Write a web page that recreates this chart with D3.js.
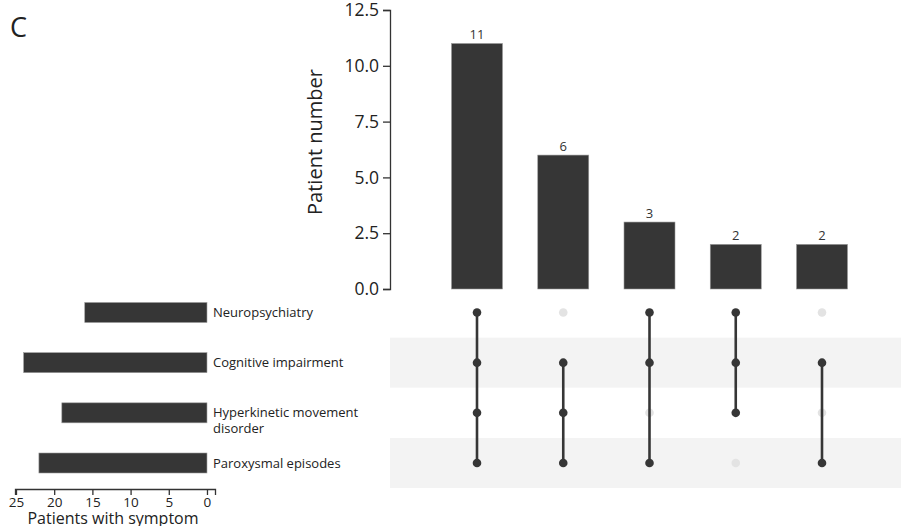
<!DOCTYPE html>
<html>
<head>
<meta charset="utf-8">
<script src="https://cdn.jsdelivr.net/npm/d3@7"></script>
<style>
  body { margin: 0; background: #fff; }
  svg { display: block; font-family: "Open Sans", sans-serif; }
</style>
</head>
<body>
<svg id="chart" width="901" height="526"></svg>
<script>
// Symptom sets (rows of the matrix) and patient totals per symptom
const symptoms = ["Neuropsychiatry", "Cognitive impairment", "Hyperkinetic movement disorder", "Paroxysmal episodes"];
const symptomLabels = [["Neuropsychiatry"], ["Cognitive impairment"], ["Hyperkinetic movement", "disorder"], ["Paroxysmal episodes"]];
const symptomTotals = [16, 24, 19, 22];

// Intersections: patient counts and membership per symptom (1 = present)
const intersectionCounts = [11, 6, 3, 2, 2];
const intersectionSets = [
  [1, 1, 1, 1],
  [0, 1, 1, 1],
  [1, 1, 0, 1],
  [1, 1, 1, 0],
  [0, 1, 0, 1]
];

const countTicks = [0, 2.5, 5, 7.5, 10, 12.5];
const totalTicks = [0, 5, 10, 15, 20, 25];

const dark = "#363636";
const light = "#e3e3e3";
const svg = d3.select("#chart");

// Scales
const xCol = d3.scalePoint().domain(d3.range(intersectionCounts.length)).range([477, 822]);
const barW = 51;
const yCount = d3.scaleLinear().domain([0, 12.5]).range([289, 10]);
const yRow = d3.scalePoint().domain(symptoms).range([312.5, 463]);
const rowH = 50;
const xTotal = d3.scaleLinear().domain([-1.05, 25.13]).range([215, 15]);

// Panel label
svg.append("text").attr("x", 10).attr("y", 37).attr("font-size", 27).attr("fill", "#222").text("C");

// Intersection bar chart
const yAxis = svg.append("g").attr("transform", "translate(390,0)")
  .call(d3.axisLeft(yCount).tickValues(countTicks).tickFormat(d3.format(".1f")).tickSize(7).tickPadding(4));
yAxis.select(".domain").attr("stroke", "#333").attr("stroke-width", 1.3);
yAxis.selectAll(".tick line").attr("stroke", "#333").attr("stroke-width", 1.3);
yAxis.selectAll(".tick text").attr("font-size", 17.5).attr("fill", "#222").attr("font-family", "Open Sans");

svg.append("text")
  .attr("transform", "translate(322,142) rotate(-90)")
  .attr("text-anchor", "middle").attr("font-size", 20).attr("fill", "#222")
  .text("Patient number");

svg.append("g").selectAll("rect").data(intersectionCounts).join("rect")
  .attr("x", (d, i) => xCol(i) - barW / 2)
  .attr("y", d => yCount(d))
  .attr("width", barW)
  .attr("height", d => yCount(0) - yCount(d))
  .attr("fill", dark).attr("stroke", "#9a9a9a").attr("stroke-width", 0.6);

svg.append("g").selectAll("text").data(intersectionCounts).join("text")
  .attr("x", (d, i) => xCol(i))
  .attr("y", d => yCount(d) - 4)
  .attr("text-anchor", "middle").attr("font-size", 13).attr("fill", "#333")
  .text(d => d);

// Matrix background stripes on alternate rows
svg.append("g").selectAll("rect").data(symptoms.filter((s, i) => i % 2 === 1)).join("rect")
  .attr("x", 390).attr("y", d => yRow(d) - rowH / 2)
  .attr("width", 511).attr("height", rowH)
  .attr("fill", "#f3f3f3");

// Inactive dots first, then connectors, then active dots on top
const matrix = svg.append("g");
intersectionSets.forEach((set, i) => {
  matrix.selectAll(null).data(symptoms.filter((s, j) => !set[j])).join("circle")
    .attr("cx", xCol(i)).attr("cy", d => yRow(d)).attr("r", 4.3)
    .attr("fill", light);
});
intersectionSets.forEach((set, i) => {
  const active = symptoms.filter((s, j) => set[j]);
  const ys = active.map(s => yRow(s));
  matrix.append("line")
    .attr("x1", xCol(i)).attr("x2", xCol(i))
    .attr("y1", d3.min(ys)).attr("y2", d3.max(ys))
    .attr("stroke", dark).attr("stroke-width", 2.6);
  matrix.selectAll(null).data(active).join("circle")
    .attr("cx", xCol(i)).attr("cy", d => yRow(d)).attr("r", 4.3)
    .attr("fill", dark);
});

// Symptom totals (mirrored horizontal bars)
const barH = 20;
svg.append("g").selectAll("rect").data(symptomTotals).join("rect")
  .attr("x", d => xTotal(d))
  .attr("y", (d, i) => yRow(symptoms[i]) - barH / 2)
  .attr("width", d => xTotal(0) - xTotal(d))
  .attr("height", barH)
  .attr("fill", dark).attr("stroke", "#9a9a9a").attr("stroke-width", 0.6);

const labels = svg.append("g");
symptomLabels.forEach((lines, i) => {
  const t = labels.append("text")
    .attr("x", 213).attr("y", yRow(symptoms[i]) + 4.5)
    .attr("font-size", 13).attr("fill", "#222");
  lines.forEach((ln, k) => t.append("tspan").attr("x", 213).attr("dy", k === 0 ? 0 : 16).text(ln));
});

const xAxis = svg.append("g").attr("transform", "translate(0,489)")
  .call(d3.axisBottom(xTotal).tickValues(totalTicks).tickSize(6).tickPadding(2));
xAxis.select(".domain").attr("stroke", "#333").attr("stroke-width", 1.3);
xAxis.selectAll(".tick line").attr("stroke", "#333").attr("stroke-width", 1.3);
xAxis.selectAll(".tick text").attr("font-size", 13.5).attr("fill", "#222").attr("font-family", "Open Sans");

svg.append("text")
  .attr("x", 113).attr("y", 524)
  .attr("text-anchor", "middle").attr("font-size", 16).attr("fill", "#222")
  .text("Patients with symptom");
</script>
</body>
</html>
